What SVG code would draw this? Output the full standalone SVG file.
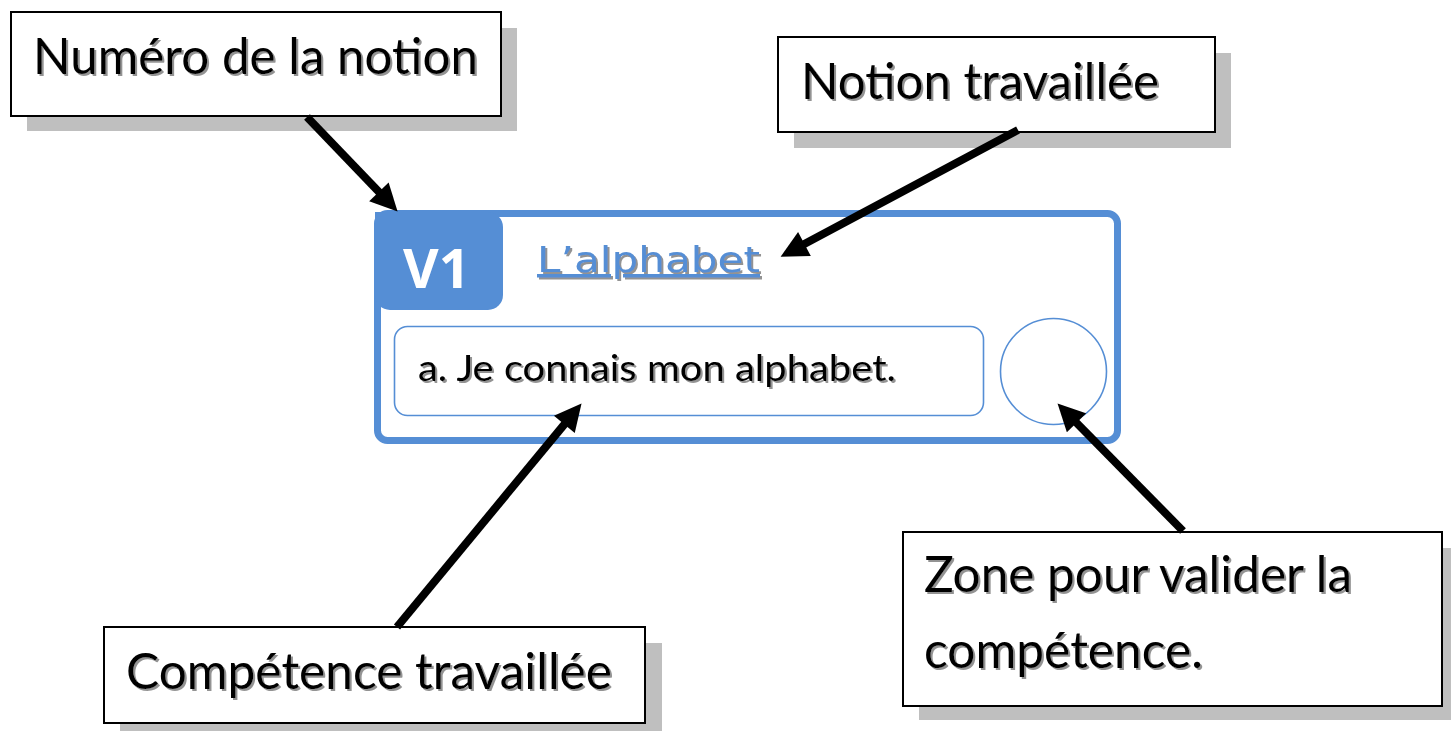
<svg xmlns="http://www.w3.org/2000/svg" width="1451" height="731" viewBox="0 0 1451 731">
  <defs>
    <filter id="ts" x="-5%" y="-20%" width="110%" height="140%">
      <feDropShadow dx="2" dy="2" stdDeviation="0.6" flood-color="#808080" flood-opacity="0.85"/>
    </filter>
    <marker id="ah" viewBox="0 0 10 10" refX="3" refY="5" markerWidth="29" markerHeight="27" markerUnits="userSpaceOnUse" orient="auto">
      <path d="M0,0 L10,5 L0,10 Z" fill="#000"/>
    </marker>
  </defs>
  <style>
    .shadow { fill: #bfbfbf; }
    .box { fill: #ffffff; stroke: #000000; stroke-width: 2; }
    .lbl { font-family: Lato, "Open Sans", "Liberation Sans", sans-serif; font-size: 50px; fill: #000; filter: url(#ts); }
    .blue { stroke: #558ed5; fill: none; }
    .conn { stroke: #000; stroke-width: 8; fill: none; marker-end: url(#ah); }
  </style>
  <rect width="1451" height="731" fill="#ffffff"/>

  <g id="label-numero">
    <rect class="shadow" x="27" y="28" width="490" height="103"/>
    <rect class="box" x="11" y="12" width="490" height="104"/>
    <text class="lbl" x="33" y="74" textLength="445" lengthAdjust="spacingAndGlyphs">Numéro de la notion</text>
  </g>

  <g id="label-notion">
    <rect class="shadow" x="794" y="53" width="437" height="95"/>
    <rect class="box" x="778" y="37" width="437" height="95"/>
    <text class="lbl" x="801" y="99" textLength="358" lengthAdjust="spacingAndGlyphs">Notion travaillée</text>
  </g>

  <g id="label-competence">
    <rect class="shadow" x="120" y="643" width="542" height="88"/>
    <rect class="box" x="104" y="627" width="541" height="96"/>
    <text class="lbl" x="126" y="689" textLength="486" lengthAdjust="spacingAndGlyphs">Compétence travaillée</text>
  </g>

  <g id="label-zone">
    <rect class="shadow" x="919" y="548" width="532" height="172"/>
    <rect class="box" x="903" y="532" width="539" height="174"/>
    <text class="lbl" x="924" y="592" textLength="428" lengthAdjust="spacingAndGlyphs">Zone pour valider la</text>
    <text class="lbl" x="924" y="668" textLength="279" lengthAdjust="spacingAndGlyphs">compétence.</text>
  </g>

  <g id="card">
    <rect class="blue" x="377.5" y="213.5" width="740" height="227" rx="10" stroke-width="7"/>
    <rect x="375" y="212" width="128" height="98" rx="15" fill="#558ed5"/>
    <rect x="375" y="212" width="40" height="40" fill="#558ed5"/>
    <text x="403" y="288" font-family="'Open Sans', 'Liberation Sans', sans-serif" font-weight="700" font-size="54" fill="#ffffff" textLength="67" lengthAdjust="spacingAndGlyphs">V1</text>
    <text x="537" y="272" font-family="'DejaVu Sans', 'Liberation Sans', sans-serif" font-size="35" fill="#558ed5" text-decoration="underline" filter="url(#ts)" textLength="223" lengthAdjust="spacingAndGlyphs">L’alphabet</text>
    <rect class="blue" x="394.5" y="326.5" width="589" height="89" rx="13" stroke-width="1.6"/>
    <text x="418" y="381" font-family="Lato, 'Open Sans', 'Liberation Sans', sans-serif" font-size="37" fill="#000" filter="url(#ts)" textLength="478" lengthAdjust="spacingAndGlyphs">a. Je connais mon alphabet.</text>
    <circle class="blue" cx="1053.5" cy="371.5" r="53" stroke-width="1.6"/>
  </g>

  <g id="connectors">
    <line class="conn" x1="307" y1="117" x2="384.5" y2="197.8"/>
    <line class="conn" x1="1018" y1="130" x2="797.3" y2="247.8"/>
    <line class="conn" x1="397" y1="627" x2="569.5" y2="418.1"/>
    <line class="conn" x1="1183" y1="531" x2="1070.8" y2="417"/>
  </g>
</svg>
